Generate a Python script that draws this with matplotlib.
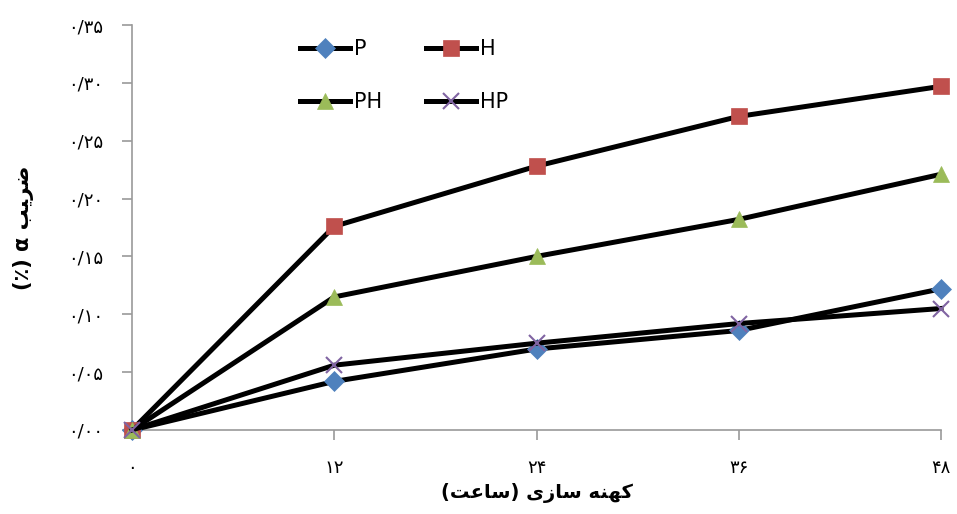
import matplotlib
matplotlib.use("Agg")
import matplotlib.pyplot as plt

plt.rcParams['font.family'] = ['DejaVu Sans']

# aging time (hours) and alpha coefficient values
hours = [0, 12, 24, 36, 48]
p_vals = [0.0, 0.042, 0.070, 0.086, 0.122]
h_vals = [0.0, 0.176, 0.228, 0.271, 0.297]
ph_vals = [0.0, 0.115, 0.150, 0.182, 0.221]
hp_vals = [0.0, 0.056, 0.075, 0.092, 0.105]

x_ticklabels = ['۰', '۱۲', '۲۴', '۳۶', '۴۸']
y_ticks = [0.0, 0.05, 0.10, 0.15, 0.20, 0.25, 0.30, 0.35]
y_ticklabels = ['۰/۰۰', '۰/۰۵', '۰/۱۰', '۰/۱۵', '۰/۲۰', '۰/۲۵', '۰/۳۰', '۰/۳۵']

# Persian labels written in visual (left-to-right) order with presentation forms,
# since matplotlib does no Arabic shaping
xlabel = '(\uFE96\uFECB\uFE8E\uFEB3) \uFEEF\uFEAF\uFE8E\uFEB3 \uFEEA\uFEE8\uFEEC\uFB90'   # کهنه سازی (ساعت)
ylabel = '(\u066A) \u03B1 \uFE90\uFEF4\uFEAE\uFEBF'                                          # ضریب α (٪)

series = [
    ('P', p_vals, 'D', '#4F81BD', 10),
    ('H', h_vals, 's', '#C0504D', 12),
    ('PH', ph_vals, '^', '#9BBB59', 12),
    ('HP', hp_vals, 'x', '#8064A2', 12),
]

fig = plt.figure(figsize=(9.57, 5.14), dpi=100)
ax = fig.add_axes([132 / 957, 1 - 430 / 514, (941 - 132) / 957, (430 - 25) / 514])

lines = {}
for name, vals, mk, col, ms in series:
    lines[name], = ax.plot(hours, vals, color='black', lw=3.6, marker=mk, markersize=ms,
                           markerfacecolor=col, markeredgecolor=col,
                           markeredgewidth=1.5 if mk == 'x' else 0.5,
                           label=name, clip_on=False, zorder=3)

ax.set_xlim(0, 48)
ax.set_ylim(0, 0.35)
ax.set_xticks(hours)
ax.set_xticklabels(x_ticklabels, fontsize=13)
ax.set_yticks(y_ticks)
ax.set_yticklabels(y_ticklabels, fontsize=13)

for side in ['top', 'right']:
    ax.spines[side].set_visible(False)
for side in ['left', 'bottom']:
    ax.spines[side].set_color('#9a9a9a')
    ax.spines[side].set_linewidth(1.2)
ax.tick_params(axis='both', direction='out', length=7, width=1.2, color='#9a9a9a', pad=14)

ax.set_xlabel(xlabel, fontsize=14, fontweight='bold', labelpad=4)
ax.set_ylabel(ylabel, fontsize=15, fontweight='bold', labelpad=24)

# legend fills column-wise, so order gives rows P,H / PH,HP
order = ['P', 'PH', 'H', 'HP']
fig.legend([lines[k] for k in order], order, loc='upper left',
           bbox_to_anchor=(300 / 957, 1 - 39 / 514), ncol=2, frameon=False,
           fontsize=15, handlelength=2.4, columnspacing=2.1, labelspacing=1.6,
           handletextpad=0.2, borderpad=0, borderaxespad=0)

fig.savefig('out.png', dpi=100)
